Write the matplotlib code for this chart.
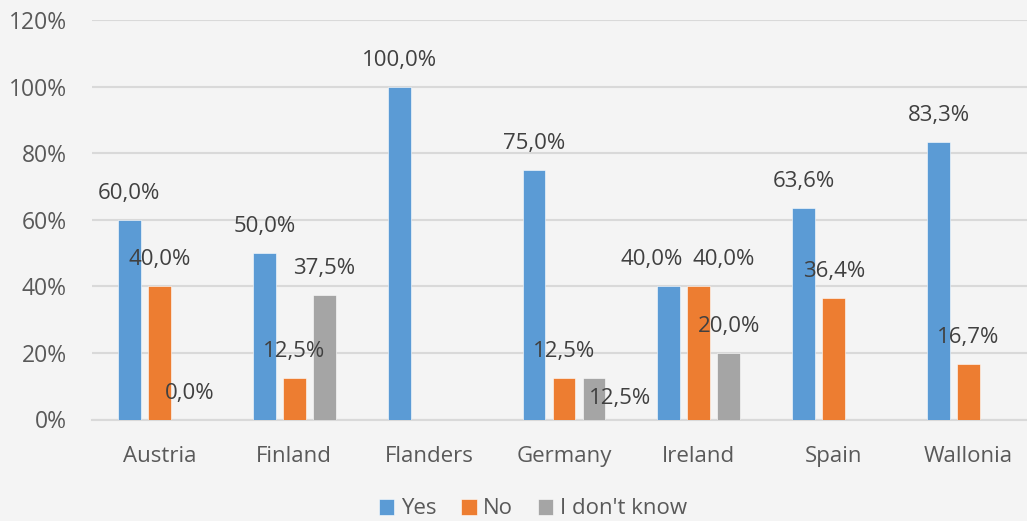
import numpy as np
import matplotlib.pyplot as plt
from matplotlib.ticker import PercentFormatter

countries = ['Austria', 'Finland', 'Flanders', 'Germany', 'Ireland', 'Spain', 'Wallonia']
yes = [60.0, 50.0, 100.0, 75.0, 40.0, 63.6, 83.3]
no = [40.0, 12.5, None, 12.5, 40.0, 36.4, 16.7]
dont_know = [0.0, 37.5, None, 12.5, 20.0, None, None]

series = [('Yes', yes, '#5B9BD5'), ('No', no, '#ED7D31'), ("I don't know", dont_know, '#A5A5A5')]

# labels nudged sideways/down so they don't collide (offsets in points)
nudge = {
    ("I don't know", 'Germany'): (19, -14.5),
    ('Yes', 'Ireland'): (-12, 19),
    ('No', 'Ireland'): (18, 19),
}

plt.rcParams['font.family'] = ['Open Sans', 'DejaVu Sans']
bg = '#f4f4f4'
txt = '#595959'
fs = 16

fig = plt.figure(figsize=(10.27, 5.21), dpi=100, facecolor=bg)
ax = fig.add_axes([92 / 1027, 101.5 / 521, 944 / 1027, 399.5 / 521])
ax.set_facecolor(bg)

x = np.arange(len(countries))
width = 0.17
step = 0.2225

for i, (name, vals, col) in enumerate(series):
    v = np.array([np.nan if a is None else a for a in vals], dtype=float) / 100
    pos = x + (i - 1) * step
    ax.bar(pos, v, width, color=col, label=name, edgecolor='white', linewidth=0.4, zorder=3)
    for c, px, val in zip(countries, pos, v):
        if np.isnan(val):
            continue
        off = nudge.get((name, c), (0, 19))
        ax.annotate(f'{val * 100:.1f}%'.replace('.', ','), (px, val), xytext=off,
                    textcoords='offset points', ha='center', va='center',
                    fontsize=fs, color='#404040', zorder=4)

ax.set_xlim(-0.5, len(countries) - 0.5)
ax.set_ylim(0, 1.2)
ax.set_yticks(np.arange(0, 1.21, 0.2))
ax.yaxis.set_major_formatter(PercentFormatter(1.0, decimals=0))
ax.set_xticks(x)
ax.set_xticklabels(countries)
ax.tick_params(axis='both', length=0, labelsize=fs, colors=txt)
ax.tick_params(axis='y', labelsize=16.5, pad=18)
ax.tick_params(axis='x', pad=19)
ax.grid(axis='y', color='#d9d9d9', linewidth=1.5, zorder=0)
for s in ['top', 'right', 'left']:
    ax.spines[s].set_visible(False)
ax.spines['bottom'].set_color('#d9d9d9')
ax.spines['bottom'].set_linewidth(1.5)
ax.spines['bottom'].set_zorder(1)

fig.legend(loc='center', bbox_to_anchor=(533 / 1027, 12 / 521), ncol=3, frameon=False,
           fontsize=fs, labelcolor=txt, handlelength=0.7, handleheight=0.7,
           handletextpad=0.3, columnspacing=1.1)

fig.savefig('out.png', dpi=100, facecolor=bg)
